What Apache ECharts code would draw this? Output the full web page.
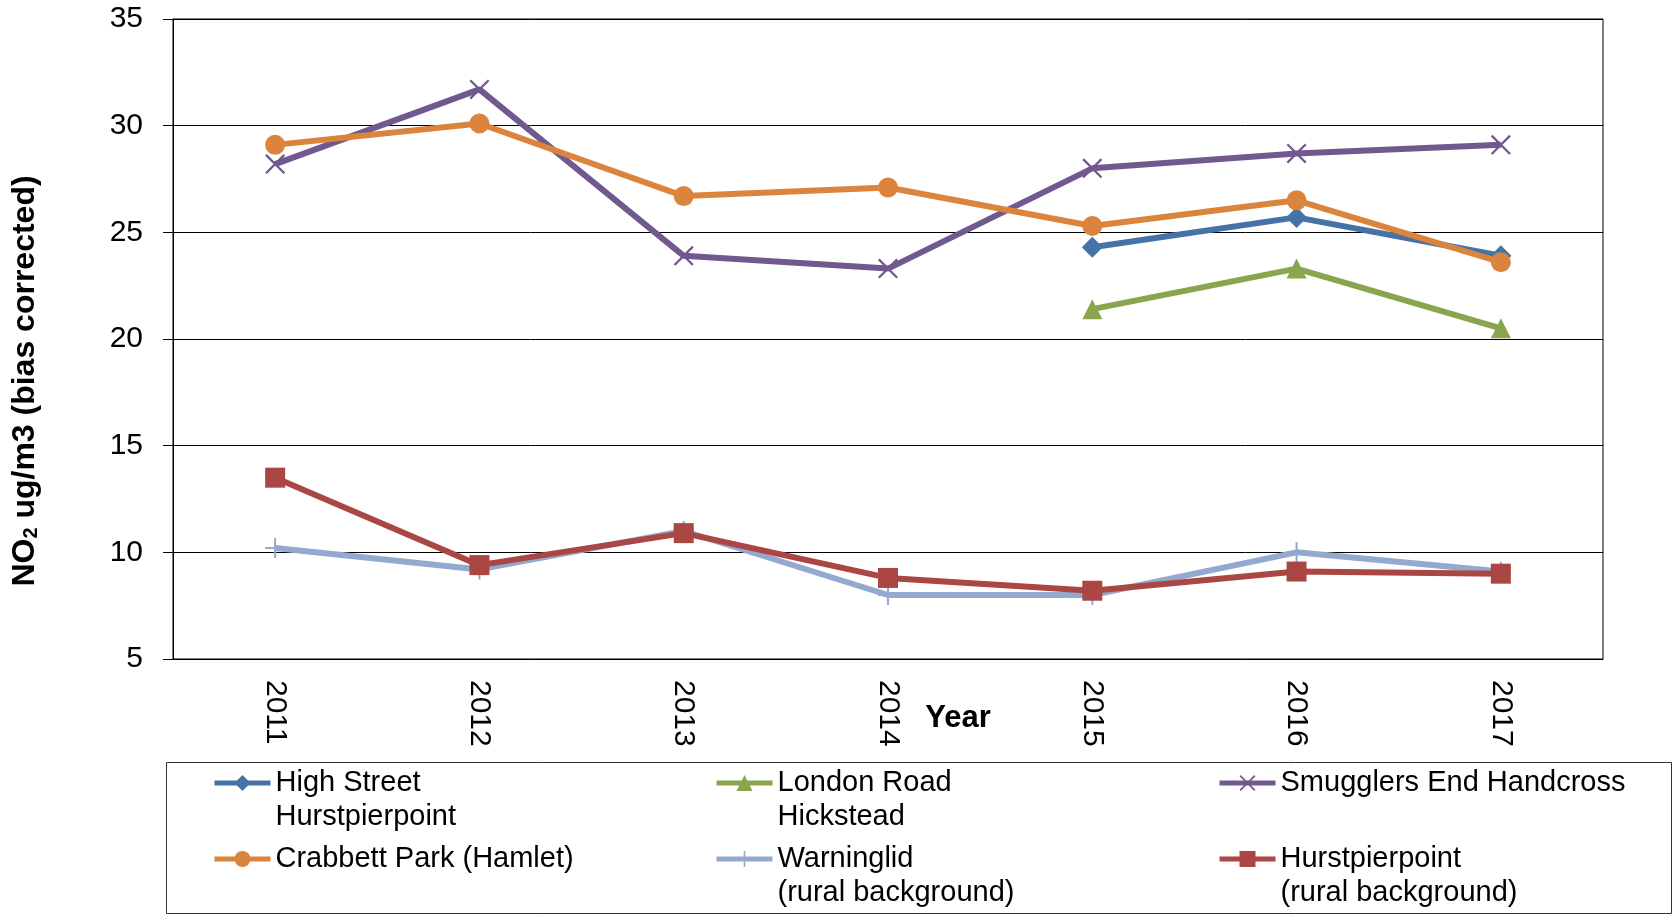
<!DOCTYPE html>
<html>
<head>
<meta charset="utf-8">
<script src="https://cdn.jsdelivr.net/npm/echarts@6/dist/echarts.min.js"></script>
<style>
html,body{margin:0;padding:0;background:#fff;}
#chart{width:1672px;height:914px;}
</style>
</head>
<body>
<div id="chart"></div>
<script>
const years = ['2011','2012','2013','2014','2015','2016','2017'];
const highStreet = [null, null, null, null, 24.3, 25.7, 23.9];
const londonRoad = [null, null, null, null, 21.4, 23.3, 20.5];
const smugglers = [28.2, 31.7, 23.9, 23.3, 28.0, 28.7, 29.1];
const crabbett = [29.1, 30.1, 26.7, 27.1, 25.3, 26.5, 23.6];
const warninglid = [10.2, 9.2, 11.0, 8.0, 8.0, 10.0, 9.1];
const hurstpierpoint = [13.5, 9.4, 10.9, 8.8, 8.2, 9.1, 9.0];
const yTicks = { min: 5, max: 35, interval: 5 };

const names = [
  'High Street\nHurstpierpoint',
  'London Road\nHickstead',
  'Smugglers End Handcross',
  'Crabbett Park (Hamlet)',
  'Warninglid\n(rural background)',
  'Hurstpierpoint\n(rural background)'
];
const colors = ['#4572A7', '#89A54E', '#71588F', '#DB843D', '#93A9CF', '#AA4643'];
const dataSets = [highStreet, londonRoad, smugglers, crabbett, warninglid, hurstpierpoint];
const symbols = [
  'diamond',
  'triangle',
  'path://M0,0.8L0.8,0L10,9.2L9.2,10Z M9.2,0L10,0.8L0.8,10L0,9.2Z',
  'circle',
  'path://M4.5,0H5.5V4.5H10V5.5H5.5V10H4.5V5.5H0V4.5H4.5Z',
  'rect'
];
const symbolSizes = [21, 20, 20, 20, 20, 20];

const FONT = '"Liberation Sans", Arial, sans-serif';

const series = names.map((n, i) => ({
  name: n,
  type: 'line',
  data: dataSets[i],
  symbol: symbols[i],
  symbolSize: symbolSizes[i],
  showAllSymbol: true,
  connectNulls: false,
  lineStyle: { color: colors[i], width: 6 },
  itemStyle: { color: colors[i] },
  emphasis: { disabled: true },
  animation: false,
  z: 2 + i
}));

// legend positions: [iconLeft, iconCenterY]
const legendPos = [[212, 783], [714, 783], [1217, 783], [212, 859], [714, 859], [1217, 859]];
const LH = 34;
const legends = names.map((n, i) => {
  const twoLine = n.indexOf('\n') >= 0;
  const boxH = twoLine ? LH * 3 : LH;
  return {
    data: [n],
    left: legendPos[i][0],
    top: legendPos[i][1] - boxH / 2,
    padding: 0,
    itemWidth: 56,
    itemHeight: 20,
    itemGap: 0,
    selectedMode: false,
    lineStyle: { width: 5 },
    formatter: function (name) { return name.indexOf('\n') >= 0 ? ' \n' + name : name; },
    textStyle: {
      fontFamily: FONT,
      fontSize: 29,
      color: '#000',
      lineHeight: LH
    }
  };
});

const chart = echarts.init(document.getElementById('chart'), null, { renderer: 'canvas' });
chart.setOption({
  backgroundColor: '#fff',
  animation: false,
  grid: {
    left: 173, right: 69, top: 19, bottom: 255,
    show: true, borderColor: '#000', borderWidth: 1
  },
  legend: legends,
  xAxis: {
    type: 'category',
    data: years,
    boundaryGap: true,
    axisLine: { show: true, lineStyle: { color: '#000', width: 1 } },
    axisTick: { show: false },
    axisLabel: { rotate: -90, margin: 21, fontFamily: FONT, fontSize: 30, color: '#000' },
    name: 'Year',
    nameLocation: 'middle',
    nameGap: 44,
    nameMoveOverlap: false,
    nameTextStyle: { fontFamily: FONT, fontSize: 31, fontWeight: 'bold', color: '#000', padding: [0, 0, 0, 140] }
  },
  yAxis: {
    type: 'value',
    min: yTicks.min,
    max: yTicks.max,
    interval: yTicks.interval,
    axisLine: { show: true, lineStyle: { color: '#000', width: 1 } },
    axisTick: { show: true, length: 10, lineStyle: { color: '#000' } },
    splitLine: { show: true, lineStyle: { color: '#000', width: 1 } },
    axisLabel: { margin: 30, fontFamily: FONT, fontSize: 30, color: '#000' },
    name: 'NO{sub|2} ug/m3 (bias corrected)',
    nameLocation: 'middle',
    nameRotate: 90,
    nameGap: 132,
    nameMoveOverlap: false,
    nameTextStyle: {
      fontFamily: FONT, fontSize: 32, fontWeight: 'bold', color: '#000',
      padding: [0, 84, 0, 0],
      rich: {
        sub: { fontFamily: FONT, fontSize: 20, fontWeight: 'bold', color: '#000', verticalAlign: 'bottom', padding: [12, 0, 0, 0] }
      }
    }
  },
  graphic: [{
    type: 'rect',
    shape: { x: 166.5, y: 762.5, width: 1505, height: 151 },
    style: { fill: 'none', stroke: '#333', lineWidth: 1 },
    silent: true,
    z: 0
  }],
  series: series
});
</script>
</body>
</html>
